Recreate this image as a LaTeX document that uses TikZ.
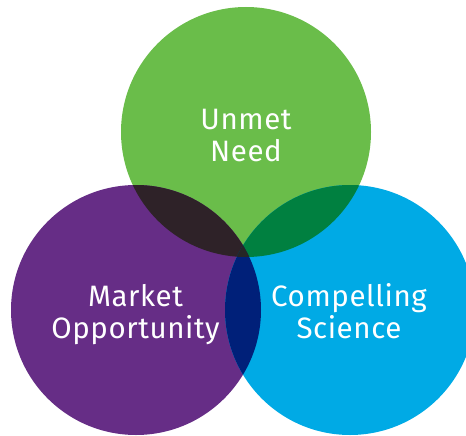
\documentclass[tikz,border=0pt]{standalone}
\usepackage{fontspec}
\setmainfont[LetterSpace=2]{Fira Sans}
\usetikzlibrary{positioning}
\definecolor{needgreen}{RGB}{106,189,74}
\definecolor{marketpurple}{RGB}{102,45,134}
\definecolor{scienceblue}{RGB}{0,170,229}
\definecolor{needmarket}{RGB}{46,34,40}
\definecolor{needscience}{RGB}{0,128,64}
\definecolor{marketscience}{RGB}{0,32,121}

\begin{document}
\begin{tikzpicture}[x=1pt,y=-1pt,
                    circ label/.style={text=white, align=center, anchor=base,
                        font=\fontsize{29.5}{32}\selectfont}]

                \useasboundingbox (0,0) rectangle (466,436);

                \coordinate (N) at (246,132);
                \coordinate (M) at (136,310);
                \coordinate (S) at (350,310);

                \fill[needgreen] (N) circle (125pt);
                \fill[marketpurple] (M) circle (125pt);
                \fill[scienceblue] (S) circle (125pt);

                % overlaps
                \begin{scope}
                    \clip (N) circle (125pt);
                    \fill[needmarket] (M) circle (125pt);
                    \fill[needscience] (S) circle (125pt);
                \end{scope}
                \begin{scope}
                    \clip (M) circle (125pt);
                    \fill[marketscience] (S) circle (125pt);
                    \clip (N) circle (125pt);
                    \fill[black!85] (S) circle (125pt);
                \end{scope}

                \draw(246,161) node[circ label] (need) {Unmet\\Need};
                \draw(135.5,338.5) node[circ label] (market) {Market\\Opportunity};
                \draw(349,338.5) node[circ label] (science) {Compelling\\Science};

            \end{tikzpicture}
\end{document}
